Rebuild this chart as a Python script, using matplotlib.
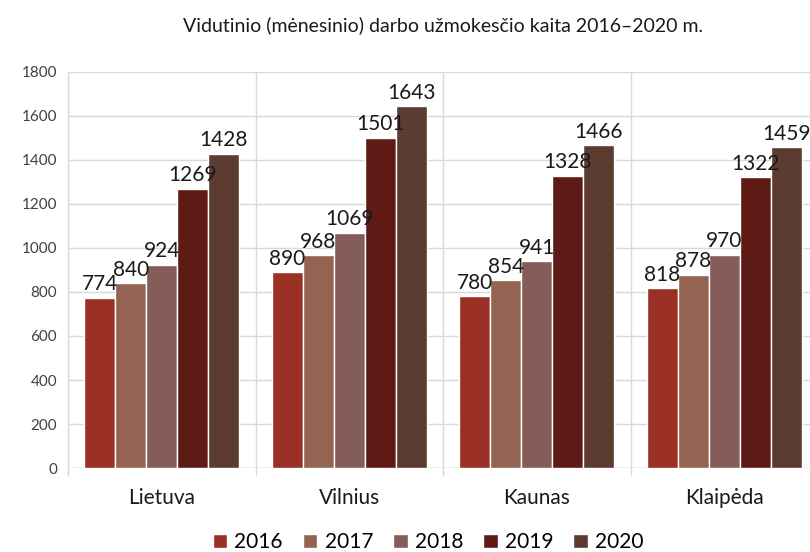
import matplotlib.pyplot as plt
import numpy as np

plt.rcParams['font.family'] = ['Lato', 'DejaVu Sans']

# Data
cities = ["Lietuva", "Vilnius", "Kaunas", "Klaipėda"]
years = ["2016", "2017", "2018", "2019", "2020"]
values = {
    "2016": [774, 890, 780, 818],
    "2017": [840, 968, 854, 878],
    "2018": [924, 1069, 941, 970],
    "2019": [1269, 1501, 1328, 1322],
    "2020": [1428, 1643, 1466, 1459],
}
colors = ["#9A3024", "#956352", "#845D5B", "#5E1B15", "#5C3B31"]

fig = plt.figure(figsize=(8.1, 5.52), dpi=100)
ax = fig.add_axes([0.084, 0.152, 0.926, 0.718])

x = np.arange(len(cities))
width = 0.165
for i, (year, color) in enumerate(zip(years, colors)):
    pos = x + (i - 2) * width
    bars = ax.bar(pos, values[year], width, color=color, edgecolor="white",
                  linewidth=1, label=year, zorder=3)
    for b, v in zip(bars, values[year]):
        ax.text(b.get_x() + b.get_width() / 2, v + 15, str(v),
                ha="center", va="bottom", fontsize=15, color="#1a1a1a", zorder=4)

ax.set_xlim(-0.5, len(cities) - 0.5)
ax.set_ylim(0, 1800)
ax.set_yticks(range(0, 1801, 200))
ax.set_xticks(x)
ax.set_xticklabels(cities, fontsize=15, color="#1a1a1a")
ax.tick_params(axis="x", length=0, pad=14)
ax.tick_params(axis="y", length=0, labelsize=11, colors="#404040", pad=8)

# grid: horizontal lines and vertical category separators
ax.grid(axis="y", color="#d9d9d9", linewidth=1, zorder=0)
for sep in np.arange(-0.5, len(cities), 1.0):
    ax.plot([sep, sep], [-30, 1800], color="#d9d9d9", linewidth=1,
            zorder=0, clip_on=False)
for s in ax.spines.values():
    s.set_visible(False)
ax.axhline(0, color="#d9d9d9", linewidth=1, zorder=2)

ax.set_title("Vidutinio (mėnesinio) darbo užmokesčio kaita 2016–2020 m.",
             fontsize=14, color="#1a1a1a", pad=29)

ax.legend(loc="upper center", bbox_to_anchor=(0.48, -0.115), ncol=5,
          frameon=False, fontsize=15, handlelength=0.7, handleheight=0.7,
          handletextpad=0.35, columnspacing=0.95)

fig.savefig("out.png", dpi=100)
